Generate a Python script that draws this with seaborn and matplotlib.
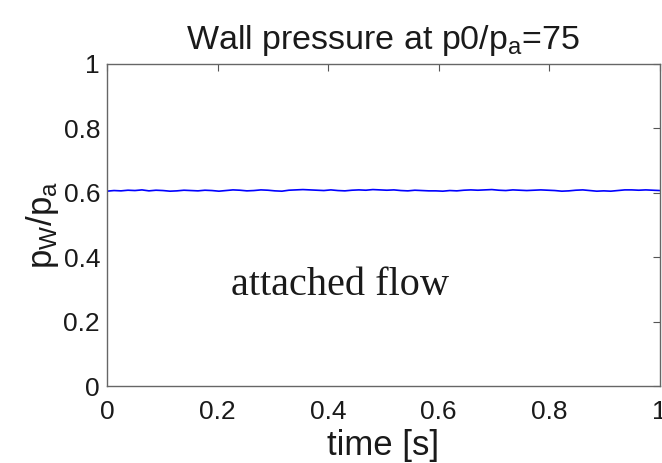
import matplotlib
matplotlib.use('Agg')
import matplotlib.pyplot as plt
import pandas as pd
import numpy as np
import seaborn as sns

# wall pressure ratio (nearly constant ~0.607)
p_ratio = [0.605, 0.607, 0.606, 0.608, 0.607, 0.609, 0.606, 0.608, 0.607, 0.605,
           0.606, 0.608, 0.607, 0.606, 0.608, 0.607, 0.605, 0.607, 0.609, 0.608,
           0.606, 0.607, 0.609, 0.608, 0.606, 0.605, 0.608, 0.609, 0.610, 0.609,
           0.608, 0.607, 0.609, 0.607, 0.606, 0.608, 0.609, 0.608, 0.610, 0.609,
           0.608, 0.609, 0.607, 0.606, 0.608, 0.607, 0.606, 0.606, 0.605, 0.607,
           0.606, 0.608, 0.609, 0.608, 0.609, 0.610, 0.608, 0.607, 0.609, 0.608,
           0.607, 0.608, 0.609, 0.608, 0.607, 0.605, 0.606, 0.608, 0.609, 0.607,
           0.605, 0.606, 0.605, 0.607, 0.609, 0.609, 0.608, 0.609, 0.608, 0.607]
time_s = np.linspace(0, 1, len(p_ratio))

x_ticks = [0, 0.2, 0.4, 0.6, 0.8, 1]
y_ticks = [0, 0.2, 0.4, 0.6, 0.8, 1]
tick_labels = ['0', '0.2', '0.4', '0.6', '0.8', '1']

df = pd.DataFrame({'time': time_s, 'p': p_ratio})

sns.set_style('white')
plt.rcParams['font.family'] = ['Liberation Sans', 'DejaVu Sans']
plt.rcParams['mathtext.default'] = 'regular'

fig = plt.figure(figsize=(6.62, 4.63), dpi=100)
ax = fig.add_axes([0.1616, 0.1663, 0.835, 0.6955])

sns.lineplot(data=df, x='time', y='p', color='#0000ff', linewidth=1.2, ax=ax)

ax.set_xlim(0, 1)
ax.set_ylim(0, 1)
ax.set_xticks(x_ticks)
ax.set_yticks(y_ticks)
ax.set_xticklabels(tick_labels)
ax.set_yticklabels(tick_labels)
ax.tick_params(direction='in', length=5, width=0.8, top=True, right=True,
               labelsize=19, colors='#555555', labelcolor='#1a1a1a')
ax.tick_params(axis='x', pad=10)
ax.tick_params(axis='y', pad=5)
for s in ax.spines.values():
    s.set_color('#666666')
    s.set_linewidth(1.0)

ax.set_title('Wall pressure at p0/p$_{a}$=75', fontsize=24.5, pad=11, color='#1a1a1a')
ax.set_xlabel('time [s]', fontsize=25, labelpad=4, color='#1a1a1a')
ax.set_ylabel('$p_{W}/p_{a}$', fontsize=25, labelpad=2, color='#1a1a1a')

ax.text(0.225, 0.284, 'attached flow', fontsize=29, family='Liberation Serif',
        va='baseline', ha='left', color='#1a1a1a')

fig.savefig('out.png', dpi=100)
